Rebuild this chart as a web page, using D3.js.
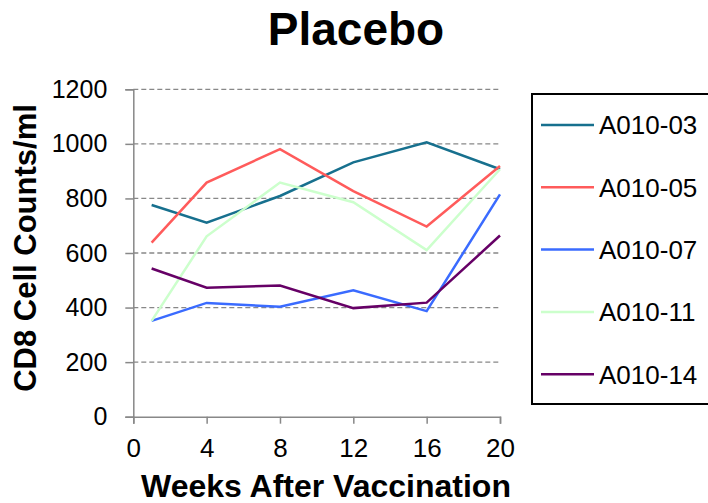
<!DOCTYPE html>
<html>
<head>
<meta charset="utf-8">
<script src="https://cdn.jsdelivr.net/npm/d3@7"></script>
<style>
  body { margin: 0; background: #fff; }
  svg { font-family: Arial, "Liberation Sans", sans-serif; }
</style>
</head>
<body>
<div id="chart"></div>
<script>
// weeks after vaccination where samples were taken
var weeks = [1, 4, 8, 12, 16, 20];
var patients = ["A010-03", "A010-05", "A010-07", "A010-11", "A010-14"];
var a01003 = [776, 711, 809, 932, 1006, 907];
var a01005 = [638, 858, 981, 827, 697, 919];
var a01007 = [351, 417, 403, 463, 387, 815];
var a01011 = [351, 661, 858, 786, 611, 907];
var a01014 = [543, 473, 481, 398, 418, 664];
var xTicks = [0, 4, 8, 12, 16, 20];
var yTicks = [0, 200, 400, 600, 800, 1000, 1200];

var colors = ["#17708e", "#ff5b5b", "#3a6bff", "#ccffcc", "#660066"];
var series = [a01003, a01005, a01007, a01011, a01014];

var width = 708, height = 503;
var plotLeft = 133.3, plotRight = 500, plotTop = 89.3, plotBottom = 416.7;

var svg = d3.select("#chart").append("svg")
    .attr("width", width)
    .attr("height", height);

var x = d3.scaleLinear().domain([0, 20]).range([plotLeft, plotRight]);
var y = d3.scaleLinear().domain([0, 1200]).range([plotBottom, plotTop]);

// dashed gridlines
svg.append("g")
    .selectAll("line")
    .data(yTicks.filter(function (d) { return d > 0; }))
    .enter()
    .append("line")
    .attr("x1", plotLeft)
    .attr("x2", plotRight)
    .attr("y1", function (d) { return y(d); })
    .attr("y2", function (d) { return y(d); })
    .attr("stroke", "#888")
    .attr("stroke-width", 1.3)
    .attr("stroke-dasharray", "5,3");

// y axis
var yAxis = d3.axisLeft(y).tickValues(yTicks).tickFormat(d3.format("d")).tickSize(8).tickPadding(18);
var gy = svg.append("g")
    .attr("transform", "translate(" + plotLeft + ",0)")
    .call(yAxis);
gy.select(".domain").attr("stroke", "#888").attr("stroke-width", 1.5);
gy.selectAll(".tick line").attr("stroke", "#888").attr("stroke-width", 1.5);
gy.selectAll("text").attr("font-size", 25).attr("fill", "#000")
    .attr("font-family", "Arial, 'Liberation Sans', sans-serif");

// x axis
var xAxis = d3.axisBottom(x).tickValues(xTicks).tickSize(7).tickPadding(15);
var gx = svg.append("g")
    .attr("transform", "translate(0," + plotBottom + ")")
    .call(xAxis);
gx.select(".domain").attr("stroke", "#888").attr("stroke-width", 1.5);
gx.selectAll(".tick line").attr("stroke", "#888").attr("stroke-width", 1.5);
gx.selectAll("text").attr("font-size", 26).attr("fill", "#000")
    .attr("font-family", "Arial, 'Liberation Sans', sans-serif");

// lines
var line = d3.line()
    .x(function (d, i) { return x(weeks[i]); })
    .y(function (d) { return y(d); });

svg.append("g")
    .selectAll("path")
    .data(series)
    .enter()
    .append("path")
    .attr("d", line)
    .attr("fill", "none")
    .attr("stroke", function (d, i) { return colors[i]; })
    .attr("stroke-width", 2.5);

// title and axis labels
svg.append("text")
    .attr("x", 356)
    .attr("y", 45)
    .attr("text-anchor", "middle")
    .attr("font-size", 46)
    .attr("font-weight", "bold")
    .text("Placebo");

svg.append("text")
    .attr("x", 326)
    .attr("y", 497)
    .attr("text-anchor", "middle")
    .attr("font-size", 32)
    .attr("font-weight", "bold")
    .text("Weeks After Vaccination");

svg.append("text")
    .attr("transform", "translate(36,248)rotate(-90)")
    .attr("text-anchor", "middle")
    .attr("font-size", 31)
    .attr("font-weight", "bold")
    .text("CD8 Cell Counts/ml");

// legend
svg.append("rect")
    .attr("x", 532)
    .attr("y", 94)
    .attr("width", 190)
    .attr("height", 310)
    .attr("fill", "none")
    .attr("stroke", "#000")
    .attr("stroke-width", 2);

var leg = svg.append("g")
    .selectAll("g")
    .data(patients)
    .enter()
    .append("g")
    .attr("transform", function (d, i) { return "translate(541," + (125 + i * 62.3) + ")"; });

leg.append("line")
    .attr("x1", 0)
    .attr("x2", 53)
    .attr("stroke", function (d, i) { return colors[i]; })
    .attr("stroke-width", 2.5);

leg.append("text")
    .attr("x", 58)
    .attr("dy", "0.36em")
    .attr("font-size", 26)
    .text(function (d) { return d; });
</script>
</body>
</html>
